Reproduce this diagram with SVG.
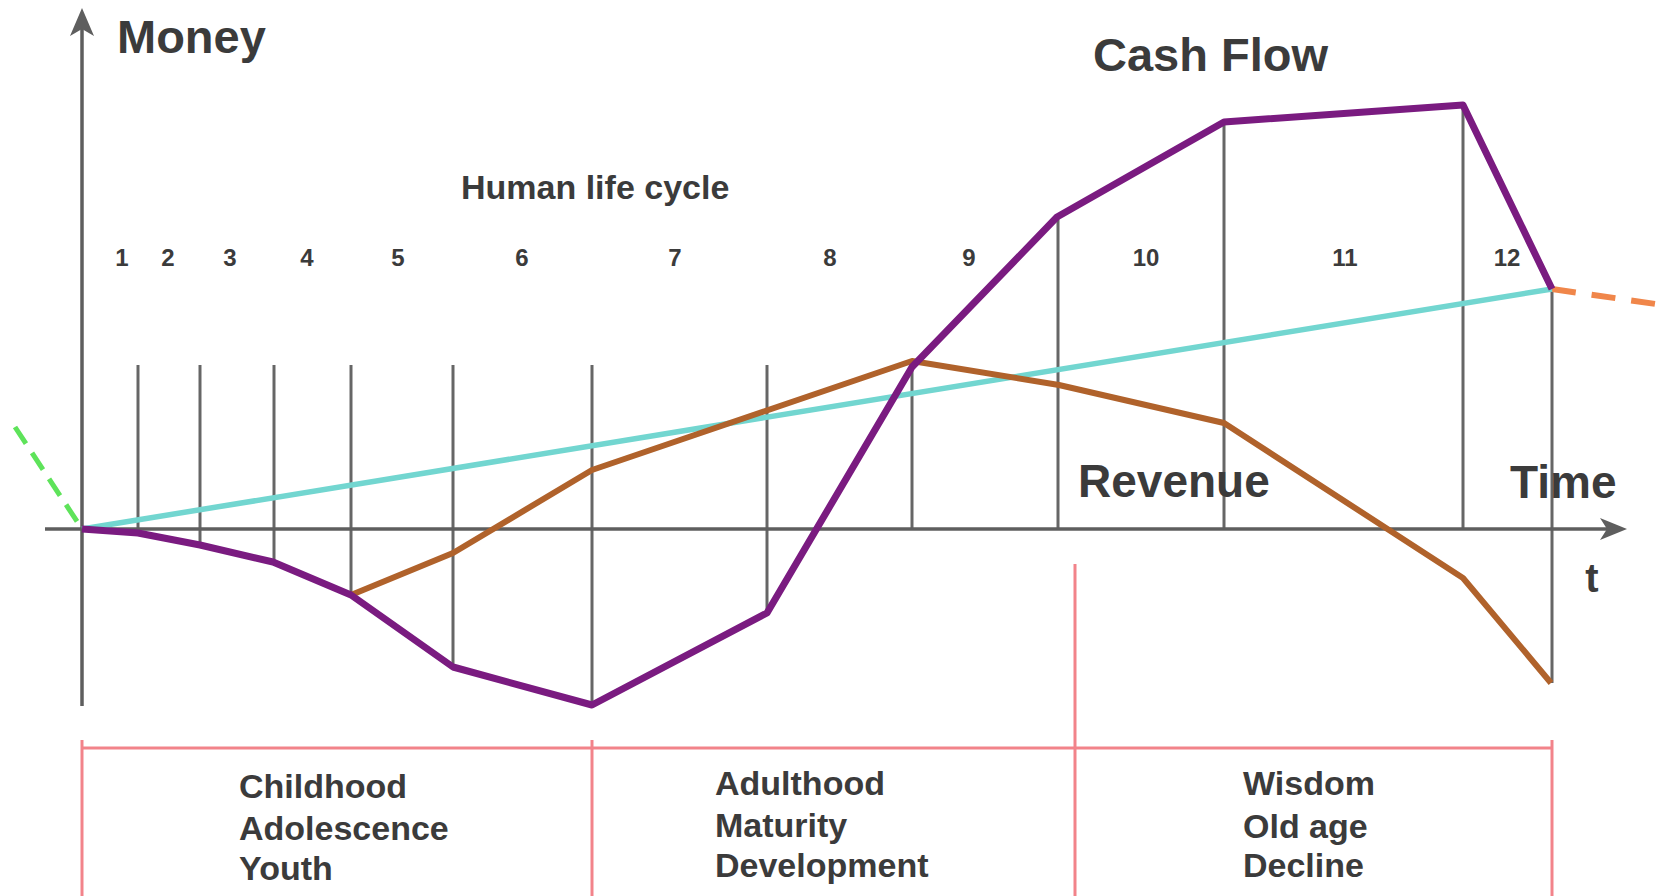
<svg xmlns="http://www.w3.org/2000/svg" width="1669" height="896" viewBox="0 0 1669 896">
<style>
.t{font-family:"Liberation Sans",Arial,sans-serif;font-weight:bold;fill:#3b3b3b}
.axis{stroke:#5e5e5e;stroke-width:3.5;fill:none}
.grid{stroke:#666;stroke-width:3;fill:none}
.pink{stroke:#f2838a;stroke-width:3;fill:none}
.num{font-size:24px;text-anchor:middle}
.phase{font-size:34px}
</style>
<rect width="1669" height="896" fill="#fff"/>
<g id="grid">
<line class="grid" x1="138" y1="365" x2="138" y2="534"/>
<line class="grid" x1="200" y1="365" x2="200" y2="545"/>
<line class="grid" x1="274" y1="365" x2="274" y2="562"/>
<line class="grid" x1="351" y1="365" x2="351" y2="595"/>
<line class="grid" x1="453" y1="365" x2="453" y2="667"/>
<line class="grid" x1="592" y1="365" x2="592" y2="706"/>
<line class="grid" x1="767" y1="365" x2="767" y2="613"/>
<line class="grid" x1="912" y1="365" x2="912" y2="529"/>
<line class="grid" x1="1058" y1="217" x2="1058" y2="529"/>
<line class="grid" x1="1224" y1="122" x2="1224" y2="529"/>
<line class="grid" x1="1463" y1="105" x2="1463" y2="529"/>
<line class="grid" x1="1552" y1="289" x2="1552" y2="683"/>
</g>
<g id="axes">
<line class="axis" x1="82" y1="706" x2="82" y2="20"/>
<path d="M82,8 L94,36 L82,29 L70,36 Z" fill="#5e5e5e"/>
<line class="axis" x1="45" y1="529" x2="1615" y2="529"/>
<path d="M1627,529 L1600,518 L1607,529 L1600,540 Z" fill="#5e5e5e"/>
</g>
<g id="connectors">
<line x1="15" y1="427" x2="82" y2="529" stroke="#5ee35a" stroke-width="5" stroke-dasharray="20 11"/>
<line x1="1552" y1="289" x2="1656" y2="304" stroke="#f0864a" stroke-width="6" stroke-dasharray="24 16"/>
<line x1="82" y1="529" x2="1552" y2="289" stroke="#72d6d0" stroke-width="5.5"/>
<polyline points="351,595 453,553 592,470 912,361 1059,385 1224,423 1463,578 1551,683" fill="none" stroke="#b0622b" stroke-width="6" stroke-linejoin="round"/>
<polyline points="82,529 138,533 200,545 273,562 351,595 453,667 592,705 767,613 912,367 1057,217 1224,122 1463,105 1552,289" fill="none" stroke="#7a1b80" stroke-width="7" stroke-linejoin="round"/>
</g>
<g id="phases">
<line class="pink" x1="82" y1="748" x2="1552" y2="748"/>
<line class="pink" x1="82" y1="740" x2="82" y2="896"/>
<line class="pink" x1="592" y1="740" x2="592" y2="896"/>
<line class="pink" x1="1075" y1="564" x2="1075" y2="896"/>
<line class="pink" x1="1552" y1="740" x2="1552" y2="896"/>
</g>
<g id="labels">
<text class="t" x="117" y="53" font-size="47">Money</text>
<text class="t" x="1093" y="71" font-size="47">Cash Flow</text>
<text class="t" x="461" y="199" font-size="34">Human life cycle</text>
<text class="t" x="1078" y="497" font-size="46">Revenue</text>
<text class="t" x="1510" y="498" font-size="46">Time</text>
<text class="t" x="1592" y="592" font-size="40" text-anchor="middle">t</text>
</g>
<g id="numbers" class="t num">
<text x="122" y="266">1</text>
<text x="168" y="266">2</text>
<text x="230" y="266">3</text>
<text x="307" y="266">4</text>
<text x="398" y="266">5</text>
<text x="522" y="266">6</text>
<text x="675" y="266">7</text>
<text x="830" y="266">8</text>
<text x="969" y="266">9</text>
<text x="1146" y="266">10</text>
<text x="1345" y="266">11</text>
<text x="1507" y="266">12</text>
</g>
<g id="phase1" class="t phase">
<text x="239" y="798">Childhood</text>
<text x="239" y="840">Adolescence</text>
<text x="239" y="880">Youth</text>
</g>
<g id="phase2" class="t phase">
<text x="715" y="795">Adulthood</text>
<text x="715" y="837">Maturity</text>
<text x="715" y="877">Development</text>
</g>
<g id="phase3" class="t phase">
<text x="1243" y="795">Wisdom</text>
<text x="1243" y="838">Old age</text>
<text x="1243" y="877">Decline</text>
</g>
</svg>
